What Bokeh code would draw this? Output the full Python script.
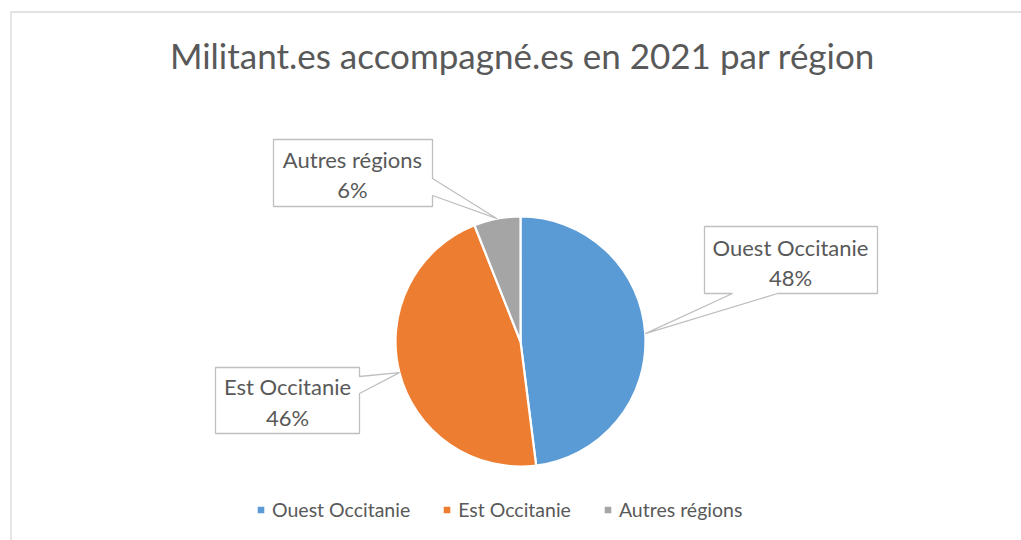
import math
from bokeh.plotting import figure
from bokeh.models import Range1d, Legend, LegendItem, ColumnDataSource
from bokeh.core.properties import value
from bokeh.embed import file_html
from bokeh.resources import INLINE

# ---- data ----
title_text = "Militant.es accompagné.es en 2021 par région"
categories = ["Ouest Occitanie", "Est Occitanie", "Autres régions"]
values = [48, 46, 6]
colors = ["#5B9BD5", "#ED7D31", "#A5A5A5"]

# ---- layout (image pixel coordinates) ----
W, H = 1021, 540
OFF = 0
FONT = "Lato"
TXT = "#595959"

def fx(x):
    return x - OFF

def fy(y):
    return H - (y - OFF)

cx_img, cy_img, R = 520, 341, 125

p = figure(width=W, height=H, output_backend="svg", toolbar_location=None,
           x_range=Range1d(0, W), y_range=Range1d(0, H), min_border=0,
           outline_line_color=None)
p.axis.visible = False
p.grid.visible = False
p.background_fill_color = "white"
p.border_fill_color = "white"

# chart border (extends beyond the visible page on right/bottom)
p.quad(left=[fx(10.5)], right=[fx(1200)], top=[fy(11.5)], bottom=[fy(900)],
       fill_color=None, line_color="#D9D9D9", line_width=1.3)

# title
p.text(x=[fx(522)], y=[fy(54)], text=[title_text], text_font=value(FONT),
       text_font_size="35px", text_color=TXT, text_align="center",
       text_baseline="middle")

# pie
total = float(sum(values))
starts, ends, mids = [], [], []
cum = 0.0
for v in values:
    a0 = cum / total
    cum += v
    a1 = cum / total
    starts.append(math.pi / 2 - a0 * 2 * math.pi)
    ends.append(math.pi / 2 - a1 * 2 * math.pi)
    mids.append((a0 + a1) / 2 * 2 * math.pi)

src = ColumnDataSource(dict(start=starts, end=ends, color=colors, cat=categories))
wr = p.wedge(x=fx(cx_img), y=fy(cy_img), radius=R, start_angle="start",
             end_angle="end", direction="clock", fill_color="color",
             line_color="white", line_width=2.2, source=src)

def tip(i):
    t = mids[i]
    return cx_img + R * math.sin(t), cy_img - R * math.cos(t)

# callouts: boxes (img coords) with pointer to slice middle
callouts = [
    # (left, top, right, bottom, notch side, n0, n1, text x, line1 y, line2 y)
    (704, 226, 877, 293, "bottom", 732, 777, 790, 247, 277),
    (215, 367, 359, 433, "right", 376, 393, 287, 386, 417),
    (273, 139, 432, 206, "right", 178, 195, 352, 159, 189),
]
xs, ys = [], []
for i, (l, t, r, b, side, n0, n1, tx, y1, y2) in enumerate(callouts):
    px, py = tip(i)
    if side == "bottom":
        pts = [(l, t), (r, t), (r, b), (n1, b), (px, py), (n0, b), (l, b)]
    else:
        pts = [(l, t), (r, t), (r, n0), (px, py), (r, n1), (r, b), (l, b)]
    xs.append([fx(a) for a, _ in pts])
    ys.append([fy(c) for _, c in pts])
p.patches(xs=xs, ys=ys, fill_color="white", line_color="#BFBFBF", line_width=1.3)

for i, (l, t, r, b, side, n0, n1, tx, y1, y2) in enumerate(callouts):
    p.text(x=[fx(tx)], y=[fy(y1)], text=[categories[i]], text_font=value(FONT),
           text_font_size="22px", text_color=TXT, text_align="center",
           text_baseline="middle")
    p.text(x=[fx(tx)], y=[fy(y2)], text=[f"{values[i]}%"], text_font=value(FONT),
           text_font_size="22px", text_color=TXT, text_align="center",
           text_baseline="middle")

# legend
items = [LegendItem(label=c, renderers=[wr], index=i) for i, c in enumerate(categories)]
legend = Legend(items=items, orientation="horizontal", location=(fx(255), 19),
                glyph_width=11, glyph_height=11, label_standoff=6, spacing=31,
                padding=0, margin=0, border_line_color=None,
                background_fill_alpha=0, label_text_font=FONT,
                label_text_font_size="19.5px", label_text_color=TXT,
                label_height=20)
p.add_layout(legend, "center")

open("out.html", "w").write(file_html(p, INLINE))
